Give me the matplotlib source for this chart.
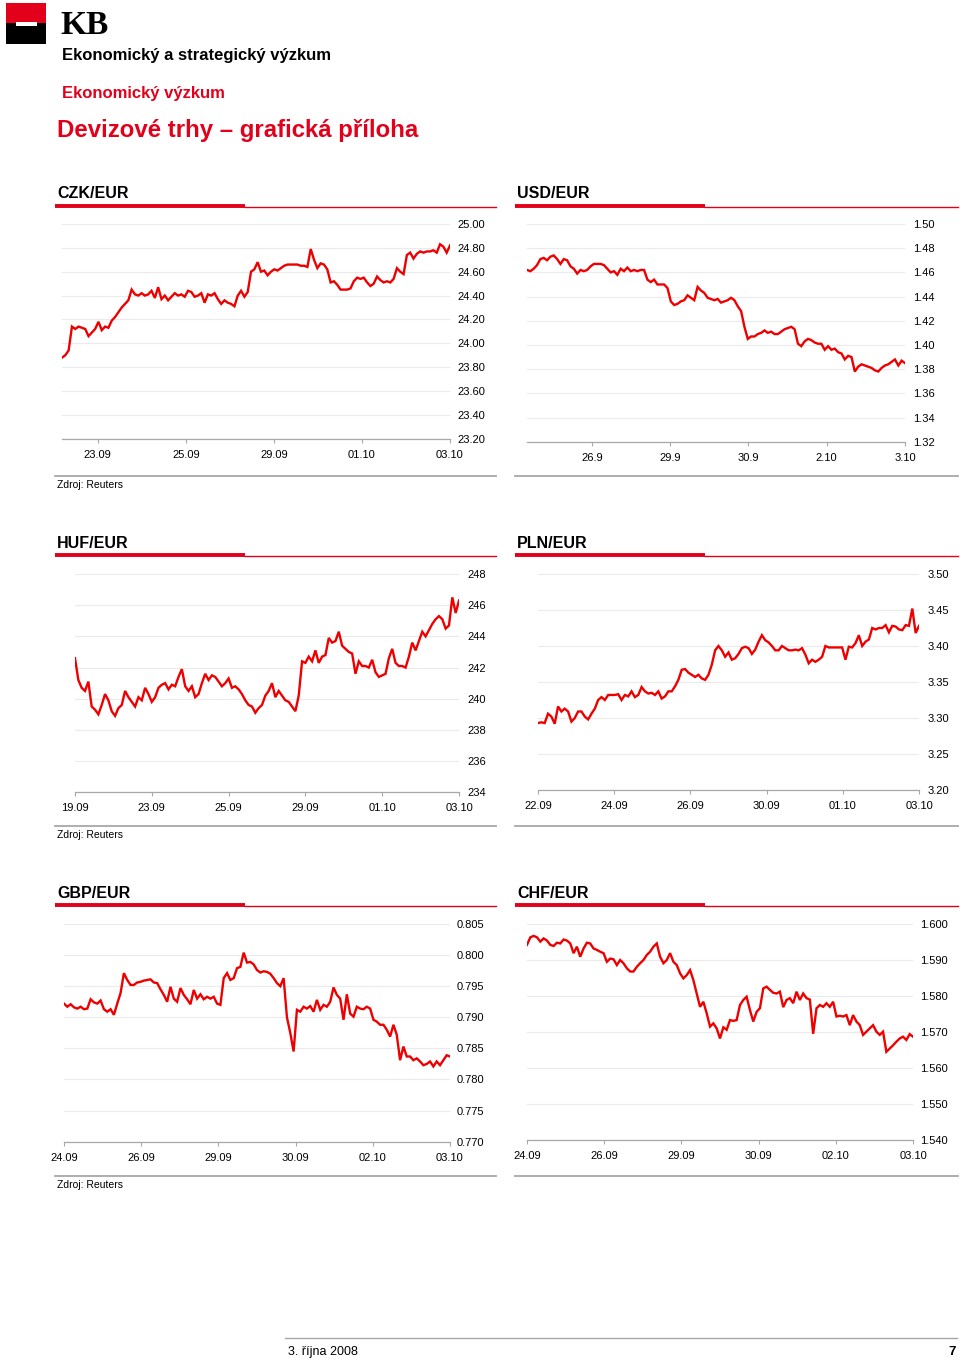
import numpy as np
import matplotlib
matplotlib.use("Agg")
import matplotlib.pyplot as plt
from matplotlib.patches import Rectangle
from matplotlib.ticker import FormatStrFormatter

plt.rcParams['font.family'] = ['Liberation Sans', 'DejaVu Sans']

RED = '#e2001a'
LINE_RED = '#ee0000'
GRAY = '#a8a8a8'

# --- data (evenly spaced in time) ---
czk_ticks = ['23.09', '25.09', '29.09', '01.10', '03.10']
czk_vals = [
    23.88, 23.90, 23.94, 24.14, 24.12, 24.14, 24.13, 24.12, 24.06, 24.09,
    24.12, 24.18, 24.11, 24.14, 24.13, 24.19, 24.22, 24.26, 24.30, 24.33,
    24.36, 24.45, 24.41, 24.40, 24.42, 24.40, 24.41, 24.44, 24.38, 24.47,
    24.37, 24.40, 24.36, 24.39, 24.42, 24.40, 24.41, 24.39, 24.44, 24.43,
    24.39, 24.40, 24.42, 24.34, 24.41, 24.40, 24.42, 24.37, 24.33, 24.36,
    24.34, 24.33, 24.31, 24.40, 24.44, 24.39, 24.43, 24.60, 24.62, 24.68,
    24.60, 24.61, 24.57, 24.60, 24.62, 24.61, 24.63, 24.65, 24.66, 24.66,
    24.66, 24.66, 24.65, 24.65, 24.64, 24.79, 24.70, 24.63, 24.67, 24.66,
    24.62, 24.51, 24.52, 24.49, 24.45, 24.45, 24.45, 24.46, 24.52, 24.55,
    24.54, 24.55, 24.51, 24.48, 24.50, 24.56, 24.53, 24.51, 24.52, 24.51,
    24.54, 24.63, 24.60, 24.58, 24.74, 24.76, 24.71, 24.75, 24.77, 24.76,
    24.77, 24.77, 24.78, 24.76, 24.83, 24.81, 24.76, 24.82,
]
czk_yticks = [23.2, 23.4, 23.6, 23.8, 24.0, 24.2, 24.4, 24.6, 24.8, 25.0]

usd_ticks = ['26.9', '29.9', '30.9', '2.10', '3.10']
usd_vals = [
    1.462, 1.461, 1.463, 1.466, 1.471, 1.472, 1.470, 1.473, 1.474, 1.471,
    1.467, 1.471, 1.470, 1.465, 1.463, 1.459, 1.462, 1.461, 1.462, 1.465,
    1.467, 1.467, 1.467, 1.466, 1.463, 1.460, 1.461, 1.458, 1.463, 1.461,
    1.464, 1.461, 1.462, 1.461, 1.462, 1.462, 1.454, 1.452, 1.454, 1.450,
    1.450, 1.450, 1.447, 1.436, 1.433, 1.434, 1.436, 1.437, 1.441, 1.439,
    1.437, 1.448, 1.445, 1.443, 1.439, 1.438, 1.437, 1.438, 1.435, 1.436,
    1.437, 1.439, 1.437, 1.432, 1.428, 1.415, 1.405, 1.407, 1.407, 1.409,
    1.410, 1.412, 1.410, 1.411, 1.409, 1.409, 1.411, 1.413, 1.414, 1.415,
    1.413, 1.401, 1.399, 1.403, 1.405, 1.404, 1.402, 1.401, 1.401, 1.396,
    1.399, 1.396, 1.397, 1.394, 1.393, 1.388, 1.391, 1.390, 1.378, 1.382,
    1.384, 1.383, 1.382, 1.381, 1.379, 1.378, 1.381, 1.383, 1.384, 1.386,
    1.388, 1.383, 1.387, 1.385,
]
usd_yticks = [1.32, 1.34, 1.36, 1.38, 1.40, 1.42, 1.44, 1.46, 1.48, 1.50]

huf_ticks = ['19.09', '23.09', '25.09', '29.09', '01.10', '03.10']
huf_vals = [
    242.6, 241.2, 240.7, 240.5, 241.1, 239.5, 239.3, 239.0, 239.6, 240.3,
    239.9, 239.2, 238.9, 239.4, 239.6, 240.5, 240.1, 239.8, 239.5, 240.1,
    239.9, 240.7, 240.3, 239.8, 240.1, 240.7, 240.9, 241.0, 240.6, 240.9,
    240.8, 241.4, 241.9, 240.8, 240.5, 240.8, 240.1, 240.3, 241.0, 241.6,
    241.2, 241.5, 241.4, 241.1, 240.8, 241.0, 241.3, 240.7, 240.8, 240.6,
    240.3, 239.9, 239.6, 239.5, 239.1, 239.4, 239.6, 240.2, 240.5, 241.0,
    240.1, 240.5, 240.2, 239.9, 239.8, 239.5, 239.2, 240.2, 242.4, 242.3,
    242.7, 242.4, 243.1, 242.3, 242.7, 242.8, 243.9, 243.6, 243.7, 244.3,
    243.4, 243.2, 243.0, 242.9, 241.6, 242.4, 242.1, 242.1, 242.0, 242.5,
    241.7, 241.4, 241.5, 241.6, 242.6, 243.2, 242.3, 242.1, 242.1, 242.0,
    242.7, 243.6, 243.1, 243.7, 244.3, 244.0, 244.4, 244.8, 245.1, 245.3,
    245.1, 244.5, 244.7, 246.5, 245.5, 246.3,
]
huf_yticks = [234, 236, 238, 240, 242, 244, 246, 248]

pln_ticks = ['22.09', '24.09', '26.09', '30.09', '01.10', '03.10']
pln_vals = [
    3.293, 3.294, 3.293, 3.306, 3.302, 3.292, 3.316, 3.309, 3.313, 3.309,
    3.295, 3.300, 3.309, 3.309, 3.302, 3.298, 3.306, 3.313, 3.325, 3.329,
    3.325, 3.332, 3.332, 3.332, 3.333, 3.325, 3.332, 3.330, 3.337, 3.329,
    3.332, 3.343, 3.337, 3.334, 3.335, 3.332, 3.337, 3.327, 3.330, 3.337,
    3.337, 3.344, 3.353, 3.367, 3.368, 3.363, 3.360, 3.357, 3.360, 3.355,
    3.353, 3.360, 3.374, 3.394, 3.400, 3.394, 3.385, 3.391, 3.381, 3.383,
    3.389, 3.397, 3.399, 3.397, 3.389, 3.395, 3.406, 3.415, 3.408, 3.405,
    3.400, 3.394, 3.394, 3.400, 3.397, 3.394, 3.394, 3.395, 3.394, 3.397,
    3.388, 3.376, 3.381, 3.378, 3.381, 3.385, 3.400, 3.398, 3.398, 3.398,
    3.398, 3.398, 3.381, 3.399, 3.398, 3.404, 3.415, 3.400, 3.406, 3.409,
    3.425, 3.423, 3.425, 3.425, 3.429, 3.419, 3.428, 3.427, 3.423, 3.422,
    3.429, 3.428, 3.452, 3.418, 3.428,
]
pln_yticks = [3.20, 3.25, 3.30, 3.35, 3.40, 3.45, 3.50]

gbp_ticks = ['24.09', '26.09', '29.09', '30.09', '02.10', '03.10']
gbp_vals = [
    0.7922, 0.7917, 0.7921, 0.7916, 0.7914, 0.7917, 0.7913, 0.7914, 0.7929, 0.7924,
    0.7922, 0.7927, 0.7913, 0.7909, 0.7913, 0.7904, 0.7922, 0.7939, 0.7971, 0.7960,
    0.7952, 0.7952, 0.7956, 0.7957, 0.7959, 0.7960, 0.7961, 0.7956, 0.7955, 0.7945,
    0.7936, 0.7925, 0.7949, 0.7930, 0.7925, 0.7947, 0.7936, 0.7929, 0.7921, 0.7944,
    0.7930, 0.7937, 0.7929, 0.7933, 0.7930, 0.7933, 0.7922, 0.7920, 0.7963, 0.7971,
    0.7960, 0.7963, 0.7979, 0.7981, 0.8004, 0.7988, 0.7989, 0.7985, 0.7976, 0.7972,
    0.7974, 0.7973, 0.7970, 0.7963, 0.7955, 0.7950, 0.7963, 0.7900, 0.7875, 0.7845,
    0.7912, 0.7909, 0.7917, 0.7914, 0.7918, 0.7909, 0.7928, 0.7912, 0.7920, 0.7917,
    0.7925, 0.7948, 0.7936, 0.7930, 0.7896, 0.7937, 0.7906, 0.7901, 0.7917, 0.7914,
    0.7913, 0.7917, 0.7914, 0.7896, 0.7893, 0.7888, 0.7888, 0.7880, 0.7869, 0.7888,
    0.7872, 0.7831, 0.7853, 0.7837, 0.7837, 0.7831, 0.7834, 0.7829, 0.7823, 0.7825,
    0.7829, 0.7821, 0.7829, 0.7823, 0.7831, 0.7839, 0.7837,
]
gbp_yticks = [0.770, 0.775, 0.780, 0.785, 0.790, 0.795, 0.800, 0.805]

chf_ticks = ['24.09', '26.09', '29.09', '30.09', '02.10', '03.10']
chf_vals = [
    1.5942, 1.5963, 1.5967, 1.5963, 1.5951, 1.5960, 1.5954, 1.5942, 1.5939, 1.5948,
    1.5946, 1.5957, 1.5954, 1.5946, 1.5919, 1.5937, 1.5909, 1.5932, 1.5948, 1.5946,
    1.5932, 1.5928, 1.5923, 1.5919, 1.5895, 1.5904, 1.5902, 1.5886, 1.5900, 1.5891,
    1.5877, 1.5868, 1.5868, 1.5881, 1.5891, 1.5900, 1.5914, 1.5923, 1.5937, 1.5946,
    1.5909, 1.5891, 1.5900, 1.5919, 1.5895, 1.5886, 1.5863, 1.5849, 1.5858, 1.5872,
    1.5844, 1.5807, 1.5770, 1.5784, 1.5752, 1.5715, 1.5724, 1.5710, 1.5682, 1.5713,
    1.5706, 1.5733, 1.5731, 1.5733, 1.5775, 1.5789, 1.5798, 1.5761, 1.5729, 1.5756,
    1.5766, 1.5821, 1.5826, 1.5817, 1.5809, 1.5807, 1.5812, 1.5769, 1.5789, 1.5794,
    1.5780, 1.5812, 1.5789, 1.5807, 1.5794, 1.5790, 1.5695, 1.5766, 1.5775, 1.5770,
    1.5780, 1.5770, 1.5784, 1.5743, 1.5745, 1.5743, 1.5747, 1.5719, 1.5747, 1.5729,
    1.5719, 1.5692, 1.5701, 1.5710, 1.5719, 1.5701, 1.5692, 1.5701, 1.5645, 1.5654,
    1.5663, 1.5673, 1.5682, 1.5687, 1.5678, 1.5694, 1.5687,
]
chf_yticks = [1.540, 1.550, 1.560, 1.570, 1.580, 1.590, 1.600]

W, H = 960, 1358
fig = plt.figure(figsize=(9.6, 13.58), dpi=100)


def box(l, t, r, b):
    return [l / W, 1 - b / H, (r - l) / W, (b - t) / H]


page = fig.add_axes([0, 0, 1, 1])
page.set_xlim(0, W)
page.set_ylim(H, 0)
page.axis('off')

# logo + header
page.add_patch(Rectangle((6, 3), 40, 20, color=RED, lw=0))
page.add_patch(Rectangle((6, 23), 40, 21, color='black', lw=0))
page.add_patch(Rectangle((16, 22), 21, 3.5, color='white', lw=0))
page.text(60, 34, 'KB', family='Liberation Serif', fontsize=24, weight='bold', va='baseline')
page.text(62, 60, 'Ekonomický a strategický výzkum', fontsize=12, weight='bold', va='baseline')
page.text(62, 98, 'Ekonomický výzkum', fontsize=12, weight='bold', color=RED, va='baseline')
page.text(57, 136.5, 'Devizové trhy – grafická příloha', fontsize=17.3, weight='bold', color=RED, va='baseline')


def panel(title, vals, labels, x0, ticks, yticks, fmt, area, ypad, col, top, source):
    cl, cr = col
    page.text(cl, top, title, fontsize=11.5, weight='bold', va='baseline')
    page.plot([cl - 2, cl + 188], [top + 7.5, top + 7.5], color=RED, lw=2.8, solid_capstyle='butt')
    page.plot([cl + 188, cr + 1], [top + 8.5, top + 8.5], color=RED, lw=1.0)
    page.plot([cl - 2, cr + 1], [top + 278, top + 278], color=GRAY, lw=1.3)
    if source:
        page.text(cl, top + 290, 'Zdroj: Reuters', fontsize=7.5, va='baseline')

    ax = fig.add_axes(box(*area))
    ax.patch.set_alpha(0)
    x = np.linspace(x0, 5, len(vals))
    ax.plot(x, vals, color=LINE_RED, lw=1.7, solid_joinstyle='miter', zorder=3)
    ax.set_xlim(x0, 5)
    ax.set_ylim(yticks[0], yticks[-1])
    ax.set_yticks(yticks)
    ax.yaxis.set_major_formatter(FormatStrFormatter(fmt))
    ax.yaxis.tick_right()
    ax.tick_params(axis='y', length=0, pad=ypad, labelsize=8)
    ax.set_xticks(ticks)
    ax.set_xticklabels(labels)
    ax.tick_params(axis='x', length=3, width=0.8, color=GRAY, pad=5, labelsize=8)
    for s in ['top', 'left', 'right']:
        ax.spines[s].set_visible(False)
    ax.spines['bottom'].set_color(GRAY)
    ax.spines['bottom'].set_linewidth(0.9)
    ax.grid(axis='y', color='#ebebeb', lw=0.8)
    ax.set_axisbelow(True)
    return ax


LEFT = (57, 495)
RIGHT = (517, 957)

panel('CZK/EUR', czk_vals, czk_ticks, 0.595, [1, 2, 3, 4, 5], czk_yticks, '%.2f',
      (62, 224, 450, 438.7), 5, LEFT, 198, True)
panel('USD/EUR', usd_vals, usd_ticks, 0.17, [1, 2, 3, 4, 5], usd_yticks, '%.2f',
      (527, 224, 905, 441.7), 6, RIGHT, 198, False)
panel('HUF/EUR', huf_vals, huf_ticks, 0, [0, 1, 2, 3, 4, 5], huf_yticks, '%d',
      (75, 574, 459, 792.3), 6, LEFT, 547.5, True)
panel('PLN/EUR', pln_vals, pln_ticks, 0, [0, 1, 2, 3, 4, 5], pln_yticks, '%.2f',
      (538, 574, 919, 790), 6, RIGHT, 547.5, False)
panel('GBP/EUR', gbp_vals, gbp_ticks, 0, [0, 1, 2, 3, 4, 5], gbp_yticks, '%.3f',
      (64, 924, 450, 1141.7), 5, LEFT, 897.5, True)
panel('CHF/EUR', chf_vals, chf_ticks, 0, [0, 1, 2, 3, 4, 5], chf_yticks, '%.3f',
      (527, 924, 913, 1140), 5, RIGHT, 897.5, False)

# footer
page.plot([285, 957], [1338, 1338], color=GRAY, lw=1.0)
page.text(288, 1355, '3. října 2008', fontsize=9, va='baseline')
page.text(956, 1355, '7', fontsize=9.5, weight='bold', ha='right', va='baseline')

fig.savefig('out.png', dpi=100)
